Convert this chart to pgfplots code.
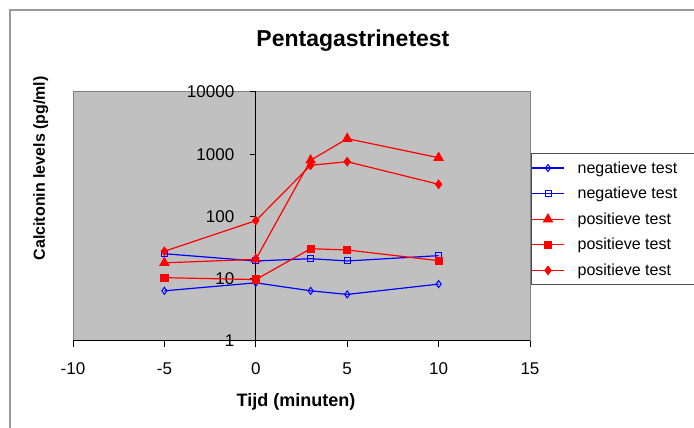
\documentclass[border=0pt]{standalone}
\usepackage{fontspec}
\setmainfont{Liberation Sans}
\usepackage{pgfplots}
\pgfplotsset{compat=1.18}
\definecolor{plotgray}{RGB}{192,192,192}
\definecolor{framegray}{RGB}{128,128,128}

\begin{document}
\begin{tikzpicture}
\path[use as bounding box] (0pt,0pt) rectangle (694pt,428pt);
% chart area frame (left and top edges in view)
\draw[framegray!80, line width=2.5pt] (10pt,-5pt) -- (10pt,418pt) -- (710pt,418pt);
\begin{axis}[
  at={(73pt,87pt)}, anchor=south west,
  scale only axis, width=457pt, height=249pt,
  ymode=log,
  xmin=-10, xmax=15, ymin=1, ymax=10000,
  axis x line=bottom, axis y line=center,
  axis line style={-, black, line width=1pt},
  axis background/.style={fill=plotgray, draw=framegray, line width=1pt},
  xtick={-10,-5,0,5,10,15},
  ytick={1,10,100,1000,10000},
  yticklabels={1,10,100,1000,10000},
  yminorticks=false,
  hide obscured x ticks=false, hide obscured y ticks=false,
  tick align=outside, major tick length=6pt,
  tick style={black, line width=1pt},
  /pgf/number format/assume math mode=true,
  ticklabel style={font=\fontsize{17}{20}\selectfont},
  xticklabel style={yshift=-12pt},
  yticklabel style={xshift=-12pt},
  every axis title/.style={at={(axis description cs:0.6125,1.182)}, anchor=base,
    font=\fontsize{23}{27}\selectfont\bfseries},
  every axis x label/.style={at={(axis description cs:0.488,-0.264)}, anchor=base,
    font=\fontsize{18}{21}\selectfont\bfseries},
  every axis y label/.style={at={(axis description cs:-0.0613,0.6936)}, anchor=base, rotate=90,
    font=\fontsize{16}{19}\selectfont\bfseries},
  title={Pentagastrinetest},
  xlabel={Tijd (minuten)},
  ylabel={Calcitonin levels (pg/ml)},
  legend style={at={(axis description cs:1.002,0.755)}, anchor=north west,
    draw=framegray!60!black, line width=1pt, fill=white,
    font=\fontsize{16}{18}\selectfont, inner xsep=0pt, inner ysep=6pt,
    row sep=8.5pt, column sep=11pt},
  legend cell align=left,
  legend image code/.code={\draw[#1, mark repeat=2, mark phase=2]
    plot coordinates {(0pt,0pt) (16pt,0pt) (32pt,0pt)};},
  every axis plot/.append style={line width=1.2pt},
]
\addplot[blue, mark=diamond, mark size=3.5pt, mark options={solid, line width=1pt}]
  coordinates {(-5,6.4) (0,8.6) (3,6.4) (5,5.6) (10,8.2)};
\addlegendentry{negatieve test\hspace*{40pt}}
\addplot[blue, mark=square, mark size=3pt, mark options={solid, line width=1pt}]
  coordinates {(-5,25.2) (0,19.3) (3,21) (5,19.3) (10,23.5)};
\addlegendentry{negatieve test}
\addplot[red, mark=triangle*, mark size=5pt, mark options={solid}]
  coordinates {(-5,18) (0,20.5) (3,800) (5,1780) (10,880)};
\addlegendentry{positieve test}
\addplot[red, mark=square*, mark size=3.5pt, mark options={solid}]
  coordinates {(-5,10.4) (0,9.7) (3,30.4) (5,29) (10,19.5)};
\addlegendentry{positieve test}
\addplot[red, mark=diamond*, mark size=4pt, mark options={solid}]
  coordinates {(-5,27.6) (0,85.7) (3,664) (5,760) (10,329)};
\addlegendentry{positieve test}
\end{axis}
\end{tikzpicture}
\end{document}
